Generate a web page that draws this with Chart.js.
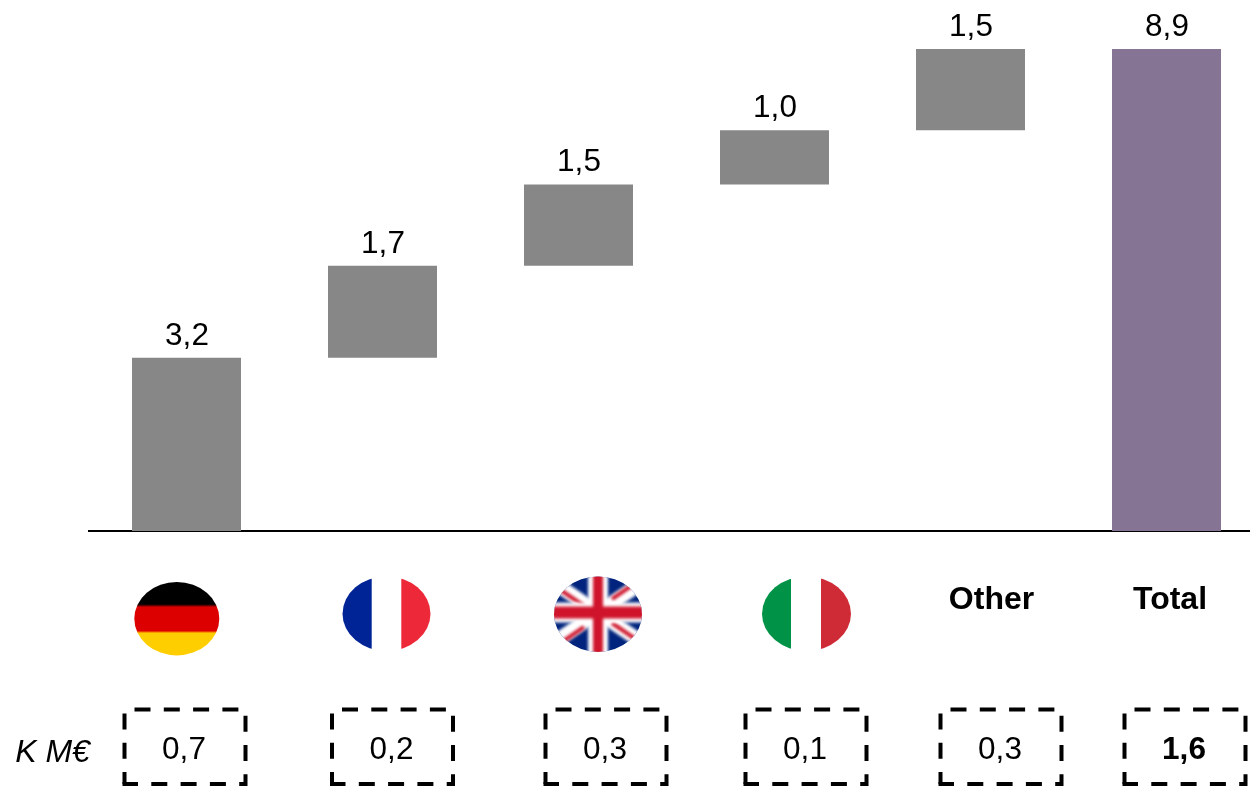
<!DOCTYPE html>
<html>
<head>
<meta charset="utf-8">
<title>Waterfall</title>
<script src="https://cdn.jsdelivr.net/npm/chart.js@4"></script>
<style>
  html, body { margin: 0; padding: 0; background: #fff; overflow: hidden; }
  canvas { display: block; }
</style>
</head>
<body>
<canvas id="waterfall" width="1265" height="786"></canvas>
<script>
const categories = ['Germany', 'France', 'UK', 'Italy', 'Other', 'Total'];
const values = [3.2, 1.7, 1.5, 1.0, 1.5, 8.9];
const kpiValues = [0.7, 0.2, 0.3, 0.1, 0.3, 1.6];
const kpiUnit = 'K M€';

const GREY = '#878787';
const PURPLE = '#857494';
const FONT = '"Liberation Sans", Arial, sans-serif';

// centres of the row under the axis, they don't line up with the bars
const rowX = [177, 387, 598, 807, 991.5, 1170];
const kpiX = [185, 392.5, 606, 806, 1001, 1185];

function fmt(v) {
    return v.toFixed(1).replace('.', ',');
}

// running total for the floating bars, last one starts at zero
let running = 0;
const ranges = values.map((v, i) => {
    if (i === values.length - 1) return [0, v];
    const r = [running, running + v];
    running += v;
    return r;
});

function clipEllipse(ctx, cx, cy, rx, ry) {
    ctx.beginPath();
    ctx.ellipse(cx, cy, rx, ry, 0, 0, Math.PI * 2);
    ctx.clip();
}

function flagGermany(ctx) {
    ctx.save();
    clipEllipse(ctx, 176.8, 618.7, 42.5, 36.7);
    const g = ctx.createLinearGradient(0, 582, 0, 656);
    g.addColorStop(0, '#000');
    g.addColorStop(0.30, '#000');
    g.addColorStop(0.34, '#dd0000');
    g.addColorStop(0.66, '#dd0000');
    g.addColorStop(0.69, '#ffce00');
    g.addColorStop(1, '#ffce00');
    ctx.fillStyle = g;
    ctx.fillRect(130, 578, 95, 82);
    ctx.restore();
}

function flagFrance(ctx) {
    ctx.save();
    clipEllipse(ctx, 386.5, 613.7, 44, 37.3);
    ctx.fillStyle = '#002395';
    ctx.fillRect(340, 575, 31.7, 80);
    ctx.fillStyle = '#ed2939';
    ctx.fillRect(401.3, 575, 32, 80);
    ctx.restore();
}

function flagItaly(ctx) {
    ctx.save();
    clipEllipse(ctx, 806.5, 613.7, 44.5, 37.3);
    ctx.fillStyle = '#009246';
    ctx.fillRect(760, 575, 31, 80);
    ctx.fillStyle = '#ce2b37';
    ctx.fillRect(821, 575, 32, 80);
    ctx.restore();
}

function flagUK(ctx) {
    const cx = 598, cy = 612.5;
    const diagonals = [[-1, -1, 3], [1, -1, -4], [-1, 1, 5], [1, 1, 1]];
    ctx.save();
    clipEllipse(ctx, 598, 614.2, 44, 37.7);
    ctx.filter = 'blur(1.5px)';
    ctx.fillStyle = '#00247d';
    ctx.fillRect(cx - 50, cy - 44, 100, 88);
    ctx.strokeStyle = '#fff';
    ctx.lineWidth = 14;
    ctx.beginPath();
    diagonals.forEach(d => {
        ctx.moveTo(cx, cy);
        ctx.lineTo(cx + d[0] * 50, cy + d[1] * 34);
    });
    ctx.stroke();
    // the thin red bands sit off the diagonal and stop short of the centre
    ctx.strokeStyle = '#cf142b';
    ctx.lineWidth = 4;
    ctx.beginPath();
    diagonals.forEach(d => {
        ctx.moveTo(cx + d[0] * 14, cy + d[1] * 9.5 + d[2]);
        ctx.lineTo(cx + d[0] * 50, cy + d[1] * 34 + d[2]);
    });
    ctx.stroke();
    ctx.fillStyle = '#fff';
    ctx.fillRect(cx - 50, cy - 10, 100, 20);
    ctx.fillRect(cx - 10, cy - 44, 20, 88);
    ctx.fillStyle = '#cf142b';
    ctx.fillRect(cx - 50, cy - 6, 100, 12);
    ctx.fillRect(cx - 5, cy - 44, 10, 88);
    ctx.restore();
}

const flags = [flagGermany, flagFrance, flagUK, flagItaly];

// top, right and bottom run as one dashed path, the left side restarts from the corner
function dashedBox(ctx, x, y, w, h) {
    ctx.save();
    ctx.strokeStyle = '#000';
    ctx.lineWidth = 4;
    ctx.setLineDash([16, 13.3]);
    ctx.lineDashOffset = 19.3;
    ctx.beginPath();
    ctx.moveTo(x, y);
    ctx.lineTo(x + w, y);
    ctx.lineTo(x + w, y + h);
    ctx.lineTo(x - 2, y + h);
    ctx.stroke();
    ctx.lineDashOffset = 4;
    ctx.beginPath();
    ctx.moveTo(x, y + h);
    ctx.lineTo(x, y);
    ctx.stroke();
    ctx.restore();
}

// numbers on top of the bars
const barLabels = {
    id: 'barLabels',
    afterDatasetsDraw(chart) {
        const { ctx, scales } = chart;
        ctx.save();
        ctx.fillStyle = '#000';
        ctx.font = '31.5px ' + FONT;
        ctx.textAlign = 'center';
        ctx.textBaseline = 'alphabetic';
        values.forEach((v, i) => {
            ctx.fillText(fmt(v), scales.x.getPixelForValue(i) + 0.5, scales.y.getPixelForValue(ranges[i][1]) - 13);
        });
        ctx.restore();
    }
};

// flags or names under the axis, then the dashed boxes
const lowerRows = {
    id: 'lowerRows',
    afterDraw(chart) {
        const ctx = chart.ctx;
        flags.forEach(f => f(ctx));

        ctx.save();
        ctx.fillStyle = '#000';
        ctx.textBaseline = 'alphabetic';
        ctx.textAlign = 'center';
        ctx.font = 'bold 32px ' + FONT;
        [4, 5].forEach(i => ctx.fillText(categories[i], rowX[i], 609));

        ctx.font = 'italic 32px ' + FONT;
        ctx.fillText(kpiUnit, 52.5, 762);

        kpiValues.forEach((v, i) => {
            dashedBox(ctx, kpiX[i] - 60.5, 709.5, 121, 74.5);
            ctx.font = (i === kpiValues.length - 1 ? 'bold ' : '') + '31.5px ' + FONT;
            ctx.fillText(fmt(v), kpiX[i] - 1, 759);
        });
        ctx.restore();
    }
};

new Chart(document.getElementById('waterfall'), {
    type: 'bar',
    data: {
        labels: categories,
        datasets: [{
            data: ranges,
            backgroundColor: categories.map((c, i) => i === categories.length - 1 ? PURPLE : GREY),
            borderWidth: 0,
            borderSkipped: false,
            barPercentage: 109 / 196,
            categoryPercentage: 1
        }]
    },
    options: {
        responsive: false,
        animation: false,
        devicePixelRatio: 1,
        layout: { padding: { left: 88.5, right: 0.5, top: 49, bottom: 247 } },
        plugins: { legend: { display: false }, tooltip: { enabled: false } },
        scales: {
            x: {
                grid: { display: false },
                border: { color: '#000', width: 2 },
                ticks: { display: false }
            },
            y: { display: false, min: 0, max: 8.9 }
        }
    },
    plugins: [barLabels, lowerRows]
});
</script>
</body>
</html>
